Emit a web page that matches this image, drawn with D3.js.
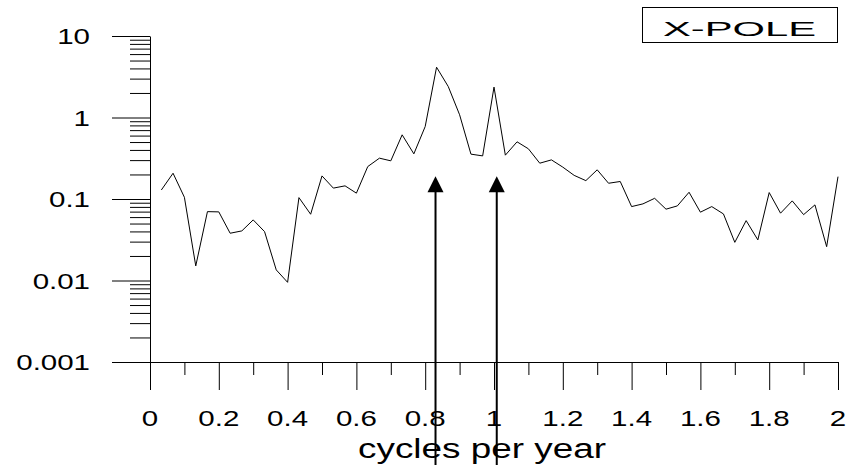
<!DOCTYPE html>
<html>
<head>
<meta charset="utf-8">
<script src="https://cdn.jsdelivr.net/npm/d3@7"></script>
<style>
  html, body { margin: 0; padding: 0; background: #fff; }
  svg { display: block; }
</style>
</head>
<body>
<div id="chart"></div>
<script>
/* Power spectrum of the polar motion X component, log scale,
   with arrows marking the Chandler and annual frequencies. */

var freqs = [0.033, 0.067, 0.1, 0.133, 0.167, 0.2, 0.233, 0.267, 0.3, 0.333,
             0.367, 0.4, 0.433, 0.467, 0.5, 0.533, 0.567, 0.6, 0.633, 0.667,
             0.7, 0.733, 0.767, 0.8, 0.833, 0.867, 0.9, 0.933, 0.967, 1.0,
             1.033, 1.067, 1.1, 1.133, 1.167, 1.2, 1.233, 1.267, 1.3, 1.333,
             1.367, 1.4, 1.433, 1.467, 1.5, 1.533, 1.567, 1.6, 1.633, 1.667,
             1.7, 1.733, 1.767, 1.8, 1.833, 1.867, 1.9, 1.933, 1.967, 2.0];

var power = [0.129, 0.207, 0.105, 0.0151, 0.070, 0.0695, 0.038, 0.0406, 0.0554, 0.0398,
             0.0135, 0.0095, 0.104, 0.065, 0.192, 0.136, 0.145, 0.118, 0.250, 0.317,
             0.294, 0.613, 0.358, 0.775, 4.14, 2.40, 1.08, 0.355, 0.338, 2.36,
             0.345, 0.503, 0.413, 0.275, 0.302, 0.246, 0.195, 0.168, 0.228, 0.156,
             0.164, 0.0807, 0.0871, 0.102, 0.075, 0.0823, 0.121, 0.0689, 0.0807, 0.0656,
             0.0294, 0.0543, 0.0315, 0.120, 0.067, 0.0948, 0.0643, 0.0847, 0.026, 0.188];

var xTicks = [0, 0.2, 0.4, 0.6, 0.8, 1, 1.2, 1.4, 1.6, 1.8, 2];
var xTickLabels = ["0", "0.2", "0.4", "0.6", "0.8", "1", "1.2", "1.4", "1.6", "1.8", "2"];
var xMinorTicks = [0.1, 0.3, 0.5, 0.7, 0.9, 1.1, 1.3, 1.5, 1.7, 1.9];

var yTicks = [0.001, 0.01, 0.1, 1, 10];
var yTickLabels = ["0.001", "0.01", "0.1", "1", "10"];

var arrowFreqs = [0.83, 1.008];
var arrowTip = 0.19;

var xTitle = "cycles per year";
var legendLabel = "X-POLE";

var W = 847, H = 465;
var FONT = "'Liberation Sans', Arial, Helvetica, sans-serif";

var svg = d3.select("#chart").append("svg")
  .attr("width", W)
  .attr("height", H);

var x = d3.scaleLinear().domain([0, 2]).range([150, 838]);
var y = d3.scaleLog().domain([0.001, 10]).range([362, 36]);

/* Y axis: long decade ticks, short 2..9 ticks. */
var yMinor = y.ticks().filter(function (v) {
  return yTicks.indexOf(v) < 0;
});

svg.append("g")
  .attr("transform", "translate(" + x(0) + ",0)")
  .call(d3.axisLeft(y).tickValues(yMinor).tickSize(20).tickSizeOuter(0).tickFormat(""))
  .call(function (g) { g.select(".domain").remove(); });

svg.append("g")
  .attr("transform", "translate(" + x(0) + ",0)")
  .call(d3.axisLeft(y).tickValues(yTicks).tickSize(38).tickSizeOuter(0).tickFormat(""));

/* X axis: sits on the 0.001 line, ticks hang below. */
svg.append("g")
  .attr("transform", "translate(0," + y(0.001) + ")")
  .call(d3.axisBottom(x).tickValues(xMinorTicks).tickSize(13).tickSizeOuter(0).tickFormat(""))
  .call(function (g) { g.select(".domain").remove(); });

svg.append("g")
  .attr("transform", "translate(0," + y(0.001) + ")")
  .call(d3.axisBottom(x).tickValues(xTicks).tickSize(28).tickSizeOuter(0).tickFormat(""));

svg.selectAll(".tick line, .domain")
  .attr("stroke", "#000")
  .attr("stroke-width", 1);

/* Tick labels are drawn wide, like the original plot. */
yTicks.forEach(function (v, i) {
  svg.append("text")
    .attr("transform", "translate(90," + (y(v) + 8) + ") scale(1.34,1)")
    .attr("text-anchor", "end")
    .attr("font-family", FONT)
    .attr("font-size", 22)
    .attr("fill", "#000")
    .text(yTickLabels[i]);
});

xTicks.forEach(function (v, i) {
  svg.append("text")
    .attr("transform", "translate(" + x(v) + ",426) scale(1.34,1)")
    .attr("text-anchor", "middle")
    .attr("font-family", FONT)
    .attr("font-size", 22)
    .attr("fill", "#000")
    .text(xTickLabels[i]);
});

svg.append("text")
  .attr("x", 358)
  .attr("y", 458)
  .attr("textLength", 248)
  .attr("lengthAdjust", "spacingAndGlyphs")
  .attr("font-family", FONT)
  .attr("font-size", 27)
  .attr("fill", "#000")
  .text(xTitle);

/* Spectrum line. */
var line = d3.line()
  .x(function (d, i) { return x(freqs[i]); })
  .y(function (d) { return y(d); });

svg.append("path")
  .datum(power)
  .attr("d", line)
  .attr("fill", "none")
  .attr("stroke", "#000")
  .attr("stroke-width", 1);

/* Arrows at the Chandler and annual terms. */
arrowFreqs.forEach(function (f) {
  var ax = x(f), ty = y(arrowTip);
  svg.append("line")
    .attr("x1", ax).attr("x2", ax)
    .attr("y1", ty + 14).attr("y2", H)
    .attr("stroke", "#000")
    .attr("stroke-width", 2);
  svg.append("path")
    .attr("d", "M" + ax + "," + ty + "L" + (ax - 8) + "," + (ty + 16) + "L" + (ax + 8) + "," + (ty + 16) + "Z")
    .attr("fill", "#000");
});

/* Legend box. */
svg.append("rect")
  .attr("x", 642.5)
  .attr("y", 7.5)
  .attr("width", 195)
  .attr("height", 35)
  .attr("fill", "#fff")
  .attr("stroke", "#000")
  .attr("stroke-width", 1);

svg.append("text")
  .attr("x", 663)
  .attr("y", 35.5)
  .attr("textLength", 153)
  .attr("lengthAdjust", "spacingAndGlyphs")
  .attr("font-family", FONT)
  .attr("font-size", 21)
  .attr("fill", "#000")
  .text(legendLabel);
</script>
</body>
</html>
